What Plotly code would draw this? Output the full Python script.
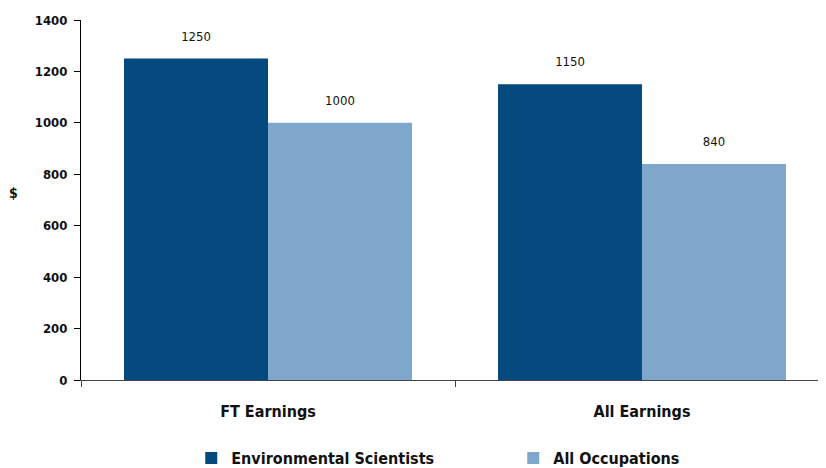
import plotly.graph_objects as go

categories = ["FT Earnings", "All Earnings"]
env_scientists = [1250, 1150]
all_occupations = [1000, 840]
series_names = ["Environmental Scientists", "All Occupations"]
y_ticks = [0, 200, 400, 600, 800, 1000, 1200, 1400]

FONT = "DejaVu Sans Condensed, Liberation Sans Narrow, sans-serif"
DARK = "#044A7E"
LIGHT = "#7FA6CB"

fig = go.Figure()
for name, vals, col in [(series_names[0], env_scientists, DARK),
                        (series_names[1], all_occupations, LIGHT)]:
    fig.add_trace(go.Bar(
        x=categories, y=vals, name=f"<b>{name}</b>", marker_color=col, marker_line_width=0,
        text=[str(v) for v in vals],
        texttemplate="<span style='font-size:13px'>%{text}</span><br> ",
        textposition="outside",
        textfont=dict(family=FONT, size=10, color="#111"),
        cliponaxis=False,
    ))

fig.update_layout(
    width=818, height=460,
    margin=dict(l=73, r=0, t=12, b=88, autoexpand=False),
    paper_bgcolor="white", plot_bgcolor="white",
    barmode="group", bargap=0.23, bargroupgap=0,
    showlegend=True,
    legend=dict(orientation="h", x=0.148, xanchor="left", y=-0.217, yanchor="middle",
                font=dict(family=FONT, size=16, color="#111"),
                entrywidth=277, entrywidthmode="pixels",
                itemwidth=30, traceorder="normal", tracegroupgap=0),
    font=dict(family=FONT),
    annotations=[dict(text="<b>$</b>", xref="paper", yref="paper", x=-0.09, y=0.52,
                      xanchor="center", showarrow=False,
                      font=dict(family=FONT, size=14, color="#111"))],
)
fig.update_xaxes(
    range=[-0.5, 1.492], showline=True, linecolor="#444", linewidth=1,
    ticks="outside", tickson="boundaries", ticklen=6, tickcolor="#444",
    tickvals=categories, ticktext=[f"<b>{c}</b>" for c in categories],
    tickfont=dict(family=FONT, size=16, color="#111"), showgrid=False,
    zeroline=False, automargin=False, ticklabelstandoff=17,
)
fig.update_yaxes(
    range=[0, 1400], tickvals=y_ticks, ticktext=[f"<b>{v}</b>" for v in y_ticks],
    showline=True, linecolor="black", linewidth=1,
    ticks="outside", ticklen=6, tickcolor="black", showgrid=False, zeroline=False,
    tickfont=dict(family=FONT, size=13, color="#111"), automargin=False,
    ticklabelstandoff=4,
)

fig.write_html("out.html")
